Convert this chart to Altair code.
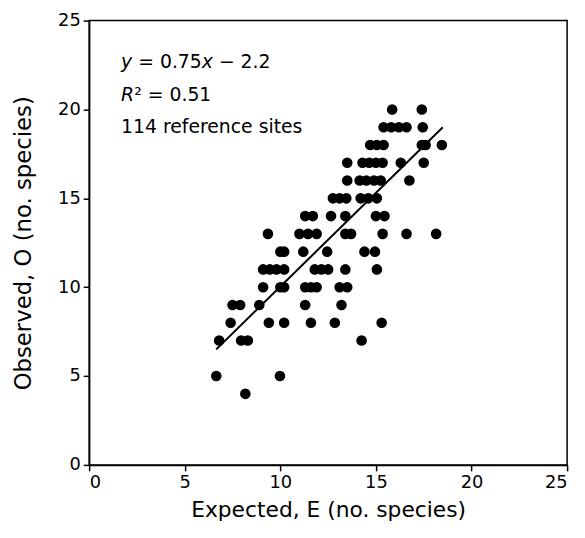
import altair as alt
import pandas as pd

# Observed (O) vs expected (E) number of species at reference sites
expected = [
    15.85, 17.4,
    15.4, 15.8, 16.2, 16.6, 17.45,
    14.7, 15.05, 15.4, 17.4, 17.6, 18.45,
    13.5, 14.3, 14.65, 15.0, 15.35, 16.3, 17.5,
    13.5, 14.15, 14.5, 14.9, 15.25, 16.75,
    12.75, 13.1, 13.45, 14.2, 14.6, 15.05,
    11.3, 11.7, 12.65, 13.4, 15.0, 15.45,
    9.35, 11.0, 11.45, 11.9, 13.4, 13.7, 15.35, 16.6, 18.15,
    10.0, 10.2, 11.2, 12.45, 14.4, 14.95,
    9.1, 9.45, 9.8, 10.2, 11.8, 12.15, 12.5, 13.4, 15.05,
    9.1, 10.0, 10.2, 11.3, 11.6, 11.9, 13.1, 13.5,
    7.5, 7.9, 8.9, 11.3, 13.2,
    7.4, 9.4, 10.2, 11.6, 12.85, 15.3,
    6.8, 7.95, 8.3, 14.25,
    6.65, 9.98,
    8.17,
]
observed = (
    [20] * 2 + [19] * 5 + [18] * 6 + [17] * 7 + [16] * 6 + [15] * 6 + [14] * 6
    + [13] * 9 + [12] * 6 + [11] * 9 + [10] * 8 + [9] * 5 + [8] * 6 + [7] * 4
    + [5] * 2 + [4] * 1
)

# Fitted line end points as drawn
fit_x = [6.65, 18.5]
fit_y = [6.5, 19.0]

# Annotation pieces (no spaces inside; gaps given in em)
note_parts = ["y", "=", "0.75", "x", "\u2212", "2.2",
              "R", "\u00b2", "=", "0.51",
              "114 reference sites"]
note_italic = [True, False, False, True, False, False,
               True, False, False, False,
               False]
note_line = [0, 0, 0, 0, 0, 0,
             1, 1, 1, 1,
             2]
note_gap = [0.0, 0.318, 0.318, 0.0, 0.318, 0.318,
            0.0, 0.0, 0.318, 0.318,
            0.0]
note_em = [0.592, 0.838, 2.226, 0.592, 0.838, 1.59,
           0.698, 0.401, 0.838, 2.226,
           9.7]
line_y = [22.35, 20.5, 18.65]
left_x = 1.67

ticks = [0, 5, 10, 15, 20, 25]

FONT = "DejaVu Sans"
NOTE_SIZE = 19
PX_PER_UNIT = 483 / 25.0

rows = []
cursor = {}
for t, it, ln, gap, em in zip(note_parts, note_italic, note_line, note_gap, note_em):
    x0 = cursor.get(ln, left_x) + gap * NOTE_SIZE / PX_PER_UNIT
    rows.append({"E": x0, "O": line_y[ln], "t": t, "it": it})
    cursor[ln] = x0 + em * NOTE_SIZE / PX_PER_UNIT
notes = pd.DataFrame(rows)

pts = pd.DataFrame({"E": expected, "O": observed})
fit = pd.DataFrame({"E": fit_x, "O": fit_y})

xs = alt.Scale(domain=[0, 25], nice=False, zero=False)
ys = alt.Scale(domain=[0, 25], nice=False, zero=False)

xax = alt.Axis(values=ticks, title="Expected, E (no. species)", grid=False,
               tickSize=6, labelPadding=3, titlePadding=8,
               labelFontSize=18, titleFontSize=22, titleFontWeight="normal")
yax = alt.Axis(values=ticks, title="Observed, O (no. species)", grid=False,
               tickSize=6, labelPadding=3, titlePadding=22,
               labelFontSize=18, titleFontSize=23, titleFontWeight="normal")

points = alt.Chart(pts).mark_circle(size=115, color="black", opacity=1).encode(
    x=alt.X("E:Q", scale=xs, axis=xax),
    y=alt.Y("O:Q", scale=ys, axis=yax),
)

line = alt.Chart(fit).mark_line(color="black", strokeWidth=2).encode(
    x=alt.X("E:Q", scale=xs),
    y=alt.Y("O:Q", scale=ys),
)

text_plain = alt.Chart(notes).transform_filter("!datum.it").mark_text(
    align="left", baseline="alphabetic", fontSize=NOTE_SIZE, font=FONT, color="black"
).encode(x=alt.X("E:Q", scale=xs), y=alt.Y("O:Q", scale=ys), text="t:N")

text_it = alt.Chart(notes).transform_filter("datum.it").mark_text(
    align="left", baseline="alphabetic", fontSize=NOTE_SIZE, font=FONT,
    fontStyle="italic", color="black"
).encode(x=alt.X("E:Q", scale=xs), y=alt.Y("O:Q", scale=ys), text="t:N")

chart = alt.layer(points, line, text_plain, text_it).properties(
    width=483, height=449,
    padding={"left": 82, "top": 10, "right": 10, "bottom": 60},
    autosize="none",
).configure_axis(
    labelFont=FONT, titleFont=FONT, labelColor="black", titleColor="black",
    domainColor="black", tickColor="black", domainWidth=1.5, tickWidth=1.5,
).configure_view(
    stroke="black", strokeWidth=1.5,
)

chart.save("out.html", embed_options={"renderer": "svg", "actions": False})
